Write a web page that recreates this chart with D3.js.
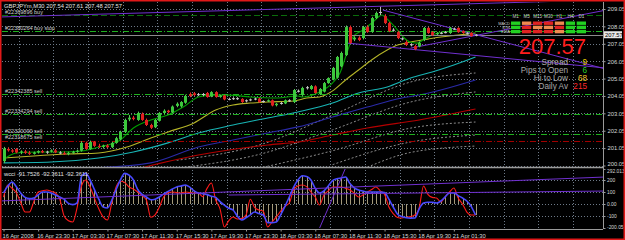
<!DOCTYPE html>
<html>
<head>
<meta charset="utf-8">
<script src="https://cdn.jsdelivr.net/npm/d3@7"></script>
<style>
  body { margin: 0; background: #000; }
  svg { display: block; font-family: "Liberation Sans", Arial, sans-serif; }
</style>
</head>
<body>
<svg id="chart" width="625" height="240"></svg>
<script>
// ---- data ----
const symbolTitle = "GBPJPYm,M30  207.54 207.61 207.48 207.57";
const indTitle = "wcci -91.7526 -92.3611 -92.3611";

const timeLabels = ["16 Apr 2008", "16 Apr 23:30", "17 Apr 03:30", "17 Apr 07:30", "17 Apr 11:30",
  "17 Apr 15:30", "17 Apr 19:30", "17 Apr 23:30", "18 Apr 03:30", "18 Apr 07:30",
  "18 Apr 11:30", "18 Apr 15:30", "18 Apr 19:30", "21 Apr 01:30"];

const opens = [200.30,201.00,200.92,201.00,200.80,200.86,200.78,200.72,200.80,200.88,
  200.80,200.85,200.92,200.80,200.76,200.70,200.78,200.84,200.90,201.35,
  201.00,201.40,201.18,201.12,201.20,201.10,201.35,201.55,201.98,202.70,
  202.80,202.67,203.02,202.67,202.38,202.25,202.62,203.07,203.20,203.10,
  203.48,203.45,203.66,204.15,204.20,204.12,204.12,204.22,204.02,204.27,
  204.00,204.08,203.85,203.88,203.92,203.88,203.75,203.80,203.85,203.90,
  203.72,203.74,203.80,203.52,203.60,203.62,203.80,203.70,204.30,204.10,
  204.50,204.45,204.60,204.15,204.30,204.79,205.00,205.10,205.75,206.40,
  208.01,207.30,207.40,207.38,208.01,207.73,208.53,208.85,208.64,208.24,
  207.83,207.72,207.32,207.15,206.98,206.92,206.90,207.27,207.96,207.72,
  207.60,207.65,207.70,207.67,207.90,207.96,207.78,207.65,207.67,207.54];
const highs = [201.12,201.10,201.00,201.05,200.92,200.95,200.88,200.85,200.92,200.95,
  200.90,200.98,201.00,200.88,200.86,200.84,200.90,200.96,201.45,201.42,
  201.48,201.45,201.30,201.25,201.28,201.42,201.70,202.05,202.75,202.95,
  202.90,203.15,203.10,202.75,202.45,202.72,203.12,203.28,203.25,203.50,
  203.68,203.75,204.12,204.25,204.28,204.22,204.22,204.28,204.32,204.32,
  204.12,204.12,203.95,203.98,203.98,203.92,203.85,203.90,203.95,203.95,
  203.80,203.85,203.85,203.65,203.70,203.85,203.86,204.45,204.42,204.58,
  204.62,204.68,204.66,204.50,204.85,205.12,205.72,206.35,206.60,208.10,
  208.10,207.48,207.48,208.08,208.12,208.60,208.90,209.17,208.75,208.30,
  207.95,207.80,207.42,207.25,207.08,207.00,207.18,208.02,208.02,207.78,
  207.72,207.74,207.78,208.02,207.98,208.00,207.82,207.72,207.72,207.61];
const lows = [200.20,200.85,200.78,200.75,200.70,200.72,200.66,200.68,200.74,200.76,
  200.72,200.80,200.76,200.70,200.66,200.64,200.72,200.78,200.85,200.95,
  200.96,201.12,201.05,201.02,201.05,201.05,201.30,201.50,201.92,202.60,
  202.65,202.62,202.62,202.32,202.15,202.20,202.58,203.00,203.05,203.05,
  203.40,203.38,203.60,203.98,204.05,204.05,204.05,203.95,203.98,203.95,
  203.95,203.80,203.80,203.82,203.82,203.65,203.68,203.75,203.80,203.65,
  203.66,203.70,203.45,203.45,203.55,203.58,203.70,203.64,204.25,204.05,
  204.42,204.40,204.18,204.10,204.25,204.75,204.95,205.05,205.70,206.35,
  207.05,207.20,207.20,207.30,207.68,207.68,208.48,208.70,208.18,207.72,
  207.75,207.32,207.25,206.92,206.90,206.68,206.85,207.20,207.62,207.50,
  207.55,207.60,207.65,207.62,207.85,207.68,207.62,207.58,207.45,207.48];
const closes = [201.02,200.92,200.85,200.80,200.86,200.78,200.72,200.80,200.88,200.80,
  200.85,200.92,200.80,200.76,200.70,200.78,200.84,200.90,201.35,201.00,
  201.40,201.18,201.12,201.20,201.10,201.35,201.62,201.98,202.67,202.80,
  202.72,203.07,202.67,202.38,202.22,202.67,203.07,203.20,203.12,203.44,
  203.60,203.70,204.05,204.05,204.10,204.15,204.16,203.99,204.27,203.99,
  204.08,203.85,203.88,203.92,203.88,203.70,203.80,203.85,203.90,203.70,
  203.76,203.80,203.50,203.60,203.65,203.80,203.76,204.39,204.35,204.51,
  204.55,204.62,204.22,204.45,204.79,205.08,205.66,206.29,206.52,208.01,
  207.10,207.40,207.27,208.01,207.73,208.53,208.82,208.88,208.24,207.78,
  207.86,207.38,207.36,206.98,207.02,206.75,207.10,207.96,207.67,207.55,
  207.67,207.68,207.72,207.96,207.92,207.72,207.67,207.62,207.50,207.57];

// moving averages, read as [bar, price] points
const maFast = [[0,200.40],[3,200.77],[8,200.83],[13,200.83],[18,200.88],[22,201.11],[27,201.52],
  [30,202.21],[34,202.67],[38,202.95],[41.5,203.41],[45,203.99],[48,204.10],[52,204.10],[57,203.99],
  [63,203.93],[68,204.05],[69,203.99],[73,204.28],[76,204.80],[77.7,205.37],[79.3,206.52],[80.7,207.44],
  [83,207.84],[85.3,208.30],[87.4,208.70],[88.8,208.42],[91,207.84],[92.3,207.44],[93.9,207.15],
  [95.5,207.09],[96.9,207.27],[99,207.55],[101.5,207.73],[104.7,207.78],[107.7,207.67],[109,207.61]];
const maYellow = [[0,200.48],[7,200.60],[15,200.71],[22,200.77],[28.5,201.11],[34,201.63],[38,201.98],
  [44,202.50],[49,203.24],[53,203.53],[57,203.64],[61,203.70],[67,203.76],[70,203.93],[73,203.99],
  [76,204.34],[79,204.97],[82,205.54],[85,206.12],[88.6,206.69],[91,206.98],[94,207.15],[98,207.32],
  [101,207.44],[105,207.55],[109,207.67]];
const maCyan = [[0,200.20],[11,200.25],[22,200.48],[30,200.83],[38,201.35],[45,201.92],[53,202.38],
  [61,202.78],[68,203.13],[76,203.64],[82,204.22],[88.6,204.57],[94,205.08],[99,205.43],[104,205.83],[109,206.29]];
const maBlue = [[20,199.90],[34,200.20],[45,201.11],[53,201.52],[61,201.92],[68,202.27],[76,202.84],
  [84,203.41],[92,203.93],[96,204.10],[109,204.97]];
const maRed = [[30,199.80],[45,200.65],[61,201.23],[68,201.40],[76,201.80],[84,202.21],[96,202.67],[109,203.30]];
const envLines = [
  [[40,200.35],[60,201.30],[76,202.95],[94,204.85],[109,205.37]],
  [[40,199.90],[60,200.75],[76,202.10],[94,203.70],[109,204.28]],
  [[60,199.95],[76,200.90],[94,202.20],[109,202.55]],
  [[76,200.10],[94,201.40],[109,201.80]],
  [[84,199.95],[94,200.80],[109,201.17]]
];

// trend lines drawn on the chart, [bar, price] end points
const trendLines = [
  [[-1, 208.59], [139, 209.57]],
  [[87.6, 208.99], [139, 205.60]],
  [[79.3, 207.09], [139, 205.66]],
  [[94, 206.80], [139, 208.98]]
];

// pending / open orders and current bid
const orderLabels = ["#22369896 buy", "#22380264 buy stop", "#22342385 sell", "#22334294 sell", "#22320090 sell", "#22318675 sell"];
const orderPrices = [208.70, 207.78, 204.16, 203.01, 201.86, 201.46];
const bidPrice = 207.57;
const priceTicks = [200.05, 201.05, 202.05, 203.05, 204.05, 205.05, 206.05, 207.05, 208.05, 209.05];

// wcci indicator values per bar
const cciSlow = [92,150,183,142,90,55,45,50,75,100,100,92,75,58,40,5,-5,10,230,255,
  200,120,40,-25,-33,30,120,200,255,240,200,120,80,58,35,40,58,85,105,125,
  142,150,158,140,110,92,85,78,65,55,20,-10,-35,-50,-100,-133,-115,-90,-67,-80,
  -92,-155,-155,-150,-90,-20,58,140,200,235,230,200,130,92,110,150,195,210,217,225,
  170,135,117,108,100,100,100,100,95,40,-25,-85,-105,-115,-118,-117,-40,8,15,15,
  8,25,60,92,92,70,50,25,-20,-92];
const cciFast = [58,158,130,92,10,-67,-67,20,100,110,117,105,92,40,-100,-140,-150,-30,150,200,
  142,50,-40,-108,-133,8,142,190,180,142,125,100,70,33,-110,-90,-25,60,95,100,
  95,92,100,95,92,92,60,130,175,33,-40,-192,-140,-108,-125,-120,-92,40,-30,-50,
  -60,-192,-150,-108,-60,-20,8,120,150,158,145,100,58,-8,75,110,142,142,142,130,
  117,90,58,75,100,120,142,110,80,-25,-80,-112,-117,-110,-105,-92,-30,150,80,55,
  50,17,60,100,133,50,0,-67,-92,-92];
const indTicks = [292.013, 200, 100, 0, -100, -200.05];
const indTickText = ["292.013", "200", "100", "0.00", "-100", "-200.05"];
const indTrendLines = [
  [[-1, 25], [139, 225]],
  [[52, 75], [139, 108]],
  [[73, -200], [79, 300]]
];

// info panel
const infoLabels = ["Spread", "Pips to Open", "Hi to Low", "Daily Av"];
const infoValues = ["9", "6", "68", "215"];
const tfLabels = ["M1", "M5", "M15", "M30", "H1", "H4", "D1"];
const sigRows = ["MACD", "STR", "EMA"];
const signals = [
  [1, 0, -1, -1, 0, 1, 1],
  [1, -1, 0, 0, -1, 1, 1],
  [1, -1, -1, -1, 0, 1, 1]
];

// ---- drawing ----
const svg = d3.select("#chart");
const plotL = 2, plotR = 603, mainTop = 2, mainBot = 167, indTop = 169, indBot = 229;

svg.append("rect").attr("width", 625).attr("height", 240).attr("fill", "#000");

const x = d3.scaleLinear().domain([0, 109]).range([3.5, 475.5]);
const yM = d3.scaleLinear().domain([200.05, 209.05]).range([165.5, 9]);
const yI = d3.scaleLinear().domain([-200, 200]).range([228, 180]);
const px = v => Math.round(v) + 0.5;

const defs = svg.append("defs");
defs.append("clipPath").attr("id", "clipMain").append("rect")
  .attr("x", plotL).attr("y", mainTop).attr("width", plotR - plotL).attr("height", mainBot - mainTop);
defs.append("clipPath").attr("id", "clipInd").append("rect")
  .attr("x", plotL).attr("y", indTop).attr("width", plotR - plotL).attr("height", indBot - indTop);

const gridColor = "#6e7a88";
const labelIdx = timeLabels.map((d, i) => i * 8);

// grid
const main = svg.append("g").attr("clip-path", "url(#clipMain)");
const ind = svg.append("g").attr("clip-path", "url(#clipInd)");

main.selectAll("line.hgrid").data(priceTicks).join("line")
  .attr("x1", plotL).attr("x2", plotR)
  .attr("y1", d => px(yM(d))).attr("y2", d => px(yM(d)))
  .attr("stroke", gridColor).attr("stroke-dasharray", "1,2");
[main, ind].forEach(g => {
  g.selectAll("line.vgrid").data(d3.range(0, 18)).join("line")
    .attr("x1", d => px(x(d * 8 + 3.5))).attr("x2", d => px(x(d * 8 + 3.5)))
    .attr("y1", mainTop).attr("y2", indBot)
    .attr("stroke", gridColor).attr("stroke-dasharray", "1,2");
});
ind.selectAll("line.hgrid").data([200, 100, 0, -100]).join("line")
  .attr("x1", plotL).attr("x2", plotR)
  .attr("y1", d => px(yI(d))).attr("y2", d => px(yI(d)))
  .attr("stroke", gridColor).attr("stroke-dasharray", "1,2");

// envelope lines
const lineM = d3.line().x(d => x(d[0])).y(d => yM(d[1])).curve(d3.curveMonotoneX);
main.selectAll("path.env").data(envLines).join("path")
  .attr("d", lineM).attr("fill", "none")
  .attr("stroke", "#9a9a9a").attr("stroke-dasharray", "2,2").attr("stroke-width", 0.9);

// moving averages
[[maRed, "#b40000"], [maBlue, "#2a2aa8"], [maCyan, "#18b4b4"], [maYellow, "#b4b428"], [maFast, "#00a000"]]
  .forEach(([d, c]) => {
    main.append("path").datum(d).attr("d", lineM).attr("fill", "none")
      .attr("stroke", c).attr("stroke-width", 1.1);
  });

// order lines
const orderColor = ["#0b6e0b", "#1fb01f", "#1fb01f", "#1fb01f", "#1fb01f", "#a00000"];
const orderDash = ["6,3", "6,2,1,2", "6,2,1,2", "6,2,1,2", "6,2,1,2", "6,2,1,2"];
main.selectAll("line.order").data(orderPrices).join("line")
  .attr("x1", plotL).attr("x2", plotR)
  .attr("y1", d => px(yM(d))).attr("y2", d => px(yM(d)))
  .attr("stroke", (d, i) => orderColor[i]).attr("stroke-dasharray", (d, i) => orderDash[i]);
main.append("line").attr("x1", plotL).attr("x2", plotR)
  .attr("y1", px(yM(bidPrice))).attr("y2", px(yM(bidPrice))).attr("stroke", "#8c8c8c");
main.selectAll("text.order").data(orderLabels).join("text")
  .attr("x", 5).attr("y", (d, i) => yM(orderPrices[i]) - 1.5)
  .attr("fill", "#d0d0d0").attr("font-size", 5.5).text(d => d);

// trend lines
const lineT = d3.line().x(d => x(d[0])).y(d => yM(d[1]));
main.selectAll("path.trend").data(trendLines).join("path")
  .attr("d", lineT).attr("fill", "none").attr("stroke", "#7030d0").attr("stroke-width", 1);

// candles
const idx = d3.range(closes.length);
main.selectAll("line.wick").data(idx).join("line")
  .attr("x1", i => px(x(i))).attr("x2", i => px(x(i)))
  .attr("y1", i => yM(highs[i])).attr("y2", i => yM(lows[i]))
  .attr("stroke", i => Math.abs(closes[i] - opens[i]) < 0.06 ? "#b8b8b8" : (closes[i] >= opens[i] ? "#58d058" : "#e83030"));
main.selectAll("rect.body").data(idx).join("rect")
  .attr("x", i => Math.round(x(i)) - 1).attr("width", 3)
  .attr("y", i => yM(Math.max(opens[i], closes[i])))
  .attr("height", i => Math.max(1, Math.abs(yM(opens[i]) - yM(closes[i]))))
  .attr("fill", i => Math.abs(closes[i] - opens[i]) < 0.06 ? "#c8c8c8" : (closes[i] >= opens[i] ? "#3cc83c" : "#e02020"));

// indicator
const barY0 = yI(0);
ind.selectAll("line.hist").data(idx).join("line")
  .attr("x1", i => px(x(i))).attr("x2", i => px(x(i)))
  .attr("y1", barY0).attr("y2", i => yI(cciSlow[i]))
  .attr("stroke", "#cdbf98").attr("stroke-width", 0.8);
const lineI = d3.line().x((d, i) => x(i)).y(d => yI(d)).curve(d3.curveMonotoneX);
ind.append("path").datum(cciFast).attr("d", lineI).attr("fill", "none")
  .attr("stroke", "#ff1a1a").attr("stroke-width", 1.1);
ind.append("path").datum(cciSlow).attr("d", lineI).attr("fill", "none")
  .attr("stroke", "#4848ff").attr("stroke-width", 1.6);
const lineIT = d3.line().x(d => x(d[0])).y(d => yI(d[1]));
ind.selectAll("path.trend").data(indTrendLines).join("path")
  .attr("d", lineIT).attr("fill", "none").attr("stroke", "#7030d0").attr("stroke-width", 1);

// frames
svg.append("line").attr("x1", plotL).attr("x2", plotR).attr("y1", 167.5).attr("y2", 167.5).attr("stroke", "#9a9a9a").attr("stroke-width", 1.5);
svg.append("line").attr("x1", plotL).attr("x2", plotR).attr("y1", indBot + 0.5).attr("y2", indBot + 0.5).attr("stroke", "#9a9a9a");
svg.append("line").attr("x1", plotR + 0.5).attr("x2", plotR + 0.5).attr("y1", mainTop).attr("y2", indBot).attr("stroke", "#9a9a9a");

// axes
const axisR = svg.append("g").attr("transform", `translate(${plotR + 0.5},0)`)
  .call(d3.axisRight(yM).tickValues(priceTicks).tickFormat(d3.format(".2f")).tickSize(2).tickPadding(2));
const axisI = svg.append("g").attr("transform", `translate(${plotR + 0.5},0)`)
  .call(d3.axisRight(yI).tickValues(indTicks).tickFormat((d, i) => indTickText[i]).tickSize(2).tickPadding(1.5));
const axisB = svg.append("g").attr("transform", `translate(0,${indBot + 0.5})`)
  .call(d3.axisBottom(x).tickValues(labelIdx).tickFormat((d, i) => timeLabels[i]).tickSize(2).tickPadding(2));
[axisR, axisI, axisB].forEach(g => {
  g.select(".domain").remove();
  g.selectAll("line").attr("stroke", "#9a9a9a");
  g.selectAll("text").attr("fill", "#d8d8d8").attr("font-size", 5.8).attr("font-family", "Liberation Sans, Arial, sans-serif");
});
axisI.selectAll("text").attr("font-size", 4.9);
// keep the edge labels inside their panes
axisR.selectAll("text").filter(d => d === priceTicks[0]).attr("dy", "-0.05em");
axisI.selectAll("text").filter(d => d === indTicks[0]).attr("dy", "0.75em");
axisI.selectAll("text").filter(d => d === indTicks[indTicks.length - 1]).attr("dy", "0.1em");
axisB.selectAll("text").attr("text-anchor", "start").attr("dx", -1.5);

// current price tag
const tagY = yM(bidPrice);
svg.append("rect").attr("x", 604).attr("y", tagY - 3.5).attr("width", 18).attr("height", 7).attr("fill", "#e8e8e8");
svg.append("text").attr("x", 605).attr("y", tagY + 2).attr("font-size", 5.8).attr("fill", "#000").text(d3.format(".2f")(bidPrice));

// titles
svg.append("text").attr("x", 4).attr("y", 8).attr("fill", "#e0e0e0").attr("font-size", 5.8).text(symbolTitle);
svg.append("text").attr("x", 4).attr("y", indTop + 7).attr("fill", "#e0e0e0").attr("font-size", 5.8).text(indTitle);

// info panel
svg.append("text").attr("x", 586).attr("y", 53.5).attr("text-anchor", "end")
  .attr("fill", "#ff1e1e").attr("font-size", 22).text(d3.format(".2f")(bidPrice));
const infoColors = ["#e8d000", "#28d028", "#f0c830", "#ff2828"];
svg.selectAll("text.infoL").data(infoLabels).join("text")
  .attr("x", 568).attr("y", (d, i) => 64.5 + i * 8).attr("text-anchor", "end")
  .attr("fill", "#a8a8a8").attr("font-size", 8.2).text(d => d);
svg.selectAll("text.infoV").data(infoValues).join("text")
  .attr("x", 587).attr("y", (d, i) => 64.5 + i * 8).attr("text-anchor", "end")
  .attr("fill", (d, i) => infoColors[i]).attr("font-size", 8.2).text(d => d);

// signal matrix
const colX = d3.scaleBand().domain(tfLabels).range([511, 586]).paddingInner(0.15);
svg.selectAll("text.tf").data(tfLabels).join("text")
  .attr("x", d => colX(d) + colX.bandwidth() / 2).attr("y", 18).attr("text-anchor", "middle")
  .attr("fill", "#c8c8c8").attr("font-size", 4.5).text(d => d);
svg.selectAll("text.sigRow").data(sigRows).join("text")
  .attr("x", 510).attr("y", (d, i) => 24.5 + i * 4.2).attr("text-anchor", "end")
  .attr("fill", "#c8c8c8").attr("font-size", 4).text(d => d);
const sigColor = v => v > 0 ? "#22d022" : (v < 0 ? "#e02222" : "#f08a50");
signals.forEach((row, r) => {
  svg.selectAll(`rect.sig${r}`).data(row).join("rect")
    .attr("x", (d, c) => colX(tfLabels[c])).attr("y", 21.5 + r * 4.2)
    .attr("width", colX.bandwidth()).attr("height", 3.4)
    .attr("fill", sigColor);
});

// window frame
svg.append("rect").attr("x", 0.75).attr("y", 0.75).attr("width", 623.5).attr("height", 238.5)
  .attr("fill", "none").attr("stroke", "#e01818").attr("stroke-width", 1.5);
</script>
</body>
</html>
